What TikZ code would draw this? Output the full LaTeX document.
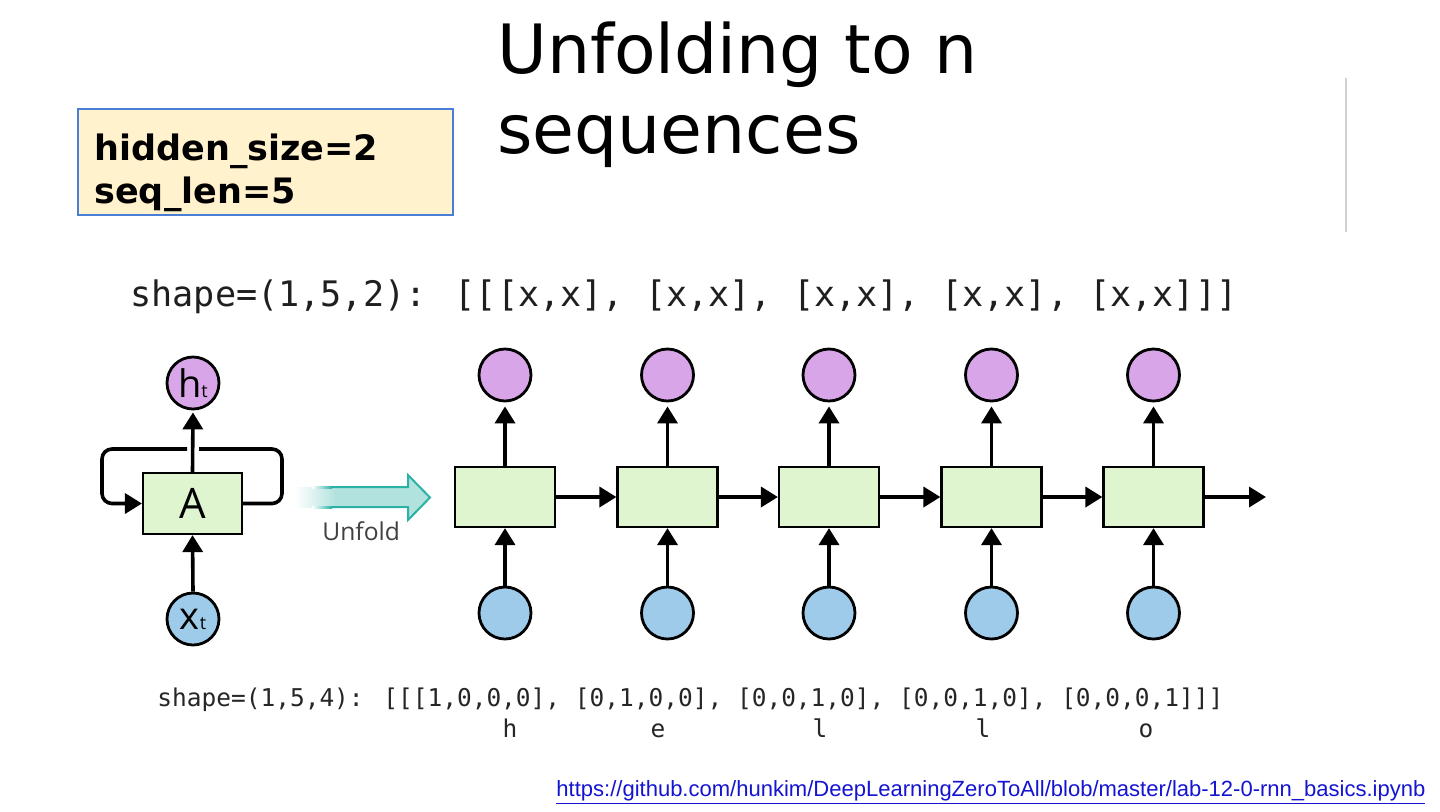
\documentclass[tikz,border=0pt]{standalone}
\usepackage{fontspec}
\usepackage{graphicx}
\setmainfont{DejaVu Sans}
\newfontfamily\monof{DejaVu Sans Mono}
\newfontfamily\urlf{Liberation Sans}
\newfontfamily\opensf{Open Sans}
\usetikzlibrary{arrows.meta}
\definecolor{purp}{RGB}{216,166,232}
\definecolor{bluec}{RGB}{158,203,234}
\definecolor{greenc}{RGB}{223,245,208}
\definecolor{paramfill}{RGB}{255,242,204}
\definecolor{paramdraw}{RGB}{74,126,214}
\definecolor{tealline}{RGB}{42,178,165}
\definecolor{tealfill}{RGB}{178,226,222}
\definecolor{urlblue}{RGB}{20,20,210}
\tikzset{
  hcirc/.style={circle, draw=black, line width=1.4pt, fill=purp, minimum size=26pt, inner sep=0pt},
  xcirc/.style={circle, draw=black, line width=1.4pt, fill=bluec, minimum size=26pt, inner sep=0pt},
  cell/.style={rectangle, draw=black, line width=1.1pt, fill=greenc, minimum width=50pt, minimum height=30pt, inner sep=0pt},
  arr/.style={line width=1.8pt, -{Triangle[length=8.5pt,width=10pt]}},
  loopline/.style={line width=1.8pt, rounded corners=5pt},
  txt/.style={anchor=base west, inner sep=0pt},
  mono1/.style={txt, font=\monof\fontsize{17.57}{20}\selectfont, text=black!88},
  mono2/.style={txt, font=\monof\fontsize{12.24}{14}\selectfont, text=black!85},
  letter/.style={anchor=base, inner sep=0pt, font=\monof\fontsize{12.24}{14}\selectfont, text=black!85},
  titletxt/.style={txt, font=\fontsize{34}{40}\selectfont},
  paramtxt/.style={txt, font=\bfseries\fontsize{17.5}{21}\selectfont},
}
\begin{document}
\begin{tikzpicture}[x=0.5pt,y=-0.5pt]
\useasboundingbox (0,0) rectangle (1440,811);
\fill[white] (0,0) rectangle (1440,811);

% title
\node[titletxt] (title1) at (497,73) {Unfolding to n};
\node[titletxt] (title2) at (497,153) {sequences};

% parameter box
\node[draw=paramdraw, fill=paramfill, line width=1pt, minimum width=187.5pt, minimum height=53pt, inner sep=0pt] (params) at (265.5,162) {};
\node[paramtxt] (p1) at (94,160) {hidden\_size=2};
\node[paramtxt] (p2) at (94,203) {seq\_len=5};

% vertical rule
\draw[black!18, line width=0.6pt] (1346,78) -- (1346,232);

% shape texts
\node[mono1] (shape1) at (130,306) {shape=(1,5,2): [[[x,x], [x,x], [x,x], [x,x], [x,x]]]};
\node[mono2] (shape2) at (157,706) {shape=(1,5,4): [[[1,0,0,0], [0,1,0,0], [0,0,1,0], [0,0,1,0], [0,0,0,1]]]};
\node[letter] (l1) at (510,737) {h};
\node[letter] (l2) at (658,737) {e};
\node[letter] (l3) at (820,737) {l};
\node[letter] (l4) at (983,737) {l};
\node[letter] (l5) at (1146,737) {o};

% folded RNN
\node[hcirc] (ht) at (193,383) {\opensf\fontsize{19}{19}\selectfont h\fontsize{9}{9}\selectfont t};
\node[cell, minimum width=49.5pt, minimum height=30.5pt] (A) at (192.5,503.5) {\opensf\fontsize{21}{21}\selectfont A};
\node[xcirc] (xt) at (193,619) {\opensf\fontsize{19}{19}\selectfont x\fontsize{9}{9}\selectfont t};
\draw[arr, shorten >=1pt] (A.north) -- (ht.south);
\draw[arr] (xt.north) -- (A.south);
\coordinate (lr) at (282,449);
\coordinate (lgapR) at (199,449);
\coordinate (lgapL) at (187,449);
\coordinate (ll) at (102,449);
\draw[loopline] (A.east) -| (lr) -- (lgapR);
\draw[loopline, arr] (lgapL) -- (ll) |- (A.west);

% unfold arrow
\shade[left color=white, right color=tealfill] (295,487) rectangle (336,507);
\fill[tealfill] (335,487) -- (408,487) -- (408,475) -- (430,497.5) -- (408,520) -- (408,507) -- (335,507) -- cycle;
\shade[left color=white, right color=tealline] (312,486) rectangle (332,488);
\shade[left color=white, right color=tealline] (312,506) rectangle (332,508);
\draw[tealline, line width=1pt, line join=miter] (331,487) -- (408,487) -- (408,475) -- (430,497.5) -- (408,520) -- (408,507) -- (331,507);
\node[txt, font=\opensf\fontsize{12.3}{14}\selectfont, text=black!75] (unfold) at (322,540) {Unfold};

% unrolled RNN
\foreach \i/\x in {1/505,2/667.5,3/829,4/991.5,5/1153.5} {
  \node[cell] (c\i) at (\x,497) {};
  \node[hcirc] (h\i) at (\x,375) {};
  \node[xcirc] (x\i) at (\x,613) {};
  \draw[arr, shorten >=2pt] (c\i.north) -- (h\i.south);
  \draw[arr] (x\i.north) -- (c\i.south);
}
\foreach \i/\j in {1/2,2/3,3/4,4/5} {
  \draw[arr] (c\i.east) -- (c\j.west);
}
\coordinate (cend) at (1266,497);
\draw[arr] (c5.east) -- (cend);

% url
\node[txt, text=urlblue] (url) at (556,796) {\resizebox{434.5pt}{!}{\urlf\underline{https://github.com/hunkim/DeepLearningZeroToAll/blob/master/lab-12-0-rnn\_basics.ipynb}}};
\end{tikzpicture}
\end{document}
